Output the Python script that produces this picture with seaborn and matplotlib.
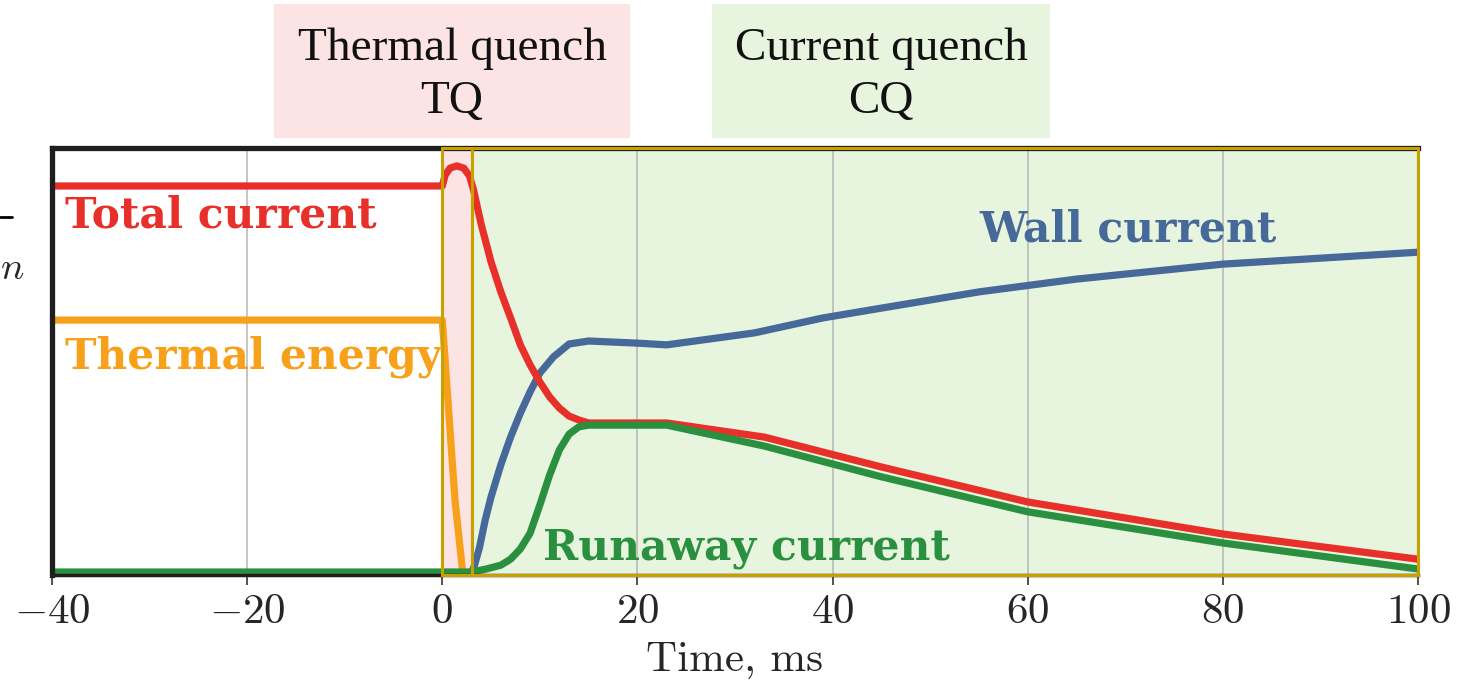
import matplotlib
matplotlib.use("Agg")
import matplotlib.pyplot as plt
import seaborn as sns
import pandas as pd
from matplotlib.patches import Rectangle
from matplotlib.lines import Line2D

# ---------------- data (normalised signal, 0 = axis bottom, 1 = axis top) -------------
total_x = [-40, 0, 0.3, 0.8, 1.5, 2.2, 2.8, 3.2, 4, 5, 6, 7, 8, 9, 10, 11, 12, 13, 14, 15, 23, 33, 45, 60, 80, 100]
total_y = [0.911, 0.911, 0.937, 0.953, 0.958, 0.953, 0.934, 0.902, 0.820, 0.733, 0.663, 0.602, 0.539, 0.492,
           0.452, 0.417, 0.391, 0.372, 0.363, 0.356, 0.356, 0.323, 0.253, 0.171, 0.096, 0.037]

thermal_x = [-40, 0, 1.3, 2.1]
thermal_y = [0.597, 0.597, 0.176, 0.005]

runaway_x = [-40, 3, 4.5, 6, 7, 8, 9, 10, 11, 12, 13, 14, 15, 23, 33, 45, 60, 80, 100]
runaway_y = [0.007, 0.007, 0.014, 0.023, 0.037, 0.061, 0.098, 0.164, 0.234, 0.293, 0.330, 0.347, 0.351,
             0.351, 0.302, 0.230, 0.148, 0.075, 0.014]

wall_x = [3, 3.3, 3.8, 4.4, 5, 6, 7, 8, 9, 10, 11.4, 13, 15, 20, 23, 32, 39, 45, 55, 65, 80, 100]
wall_y = [0.005, 0.023, 0.063, 0.129, 0.183, 0.258, 0.323, 0.379, 0.429, 0.473, 0.511, 0.541, 0.548,
          0.543, 0.539, 0.567, 0.602, 0.625, 0.663, 0.693, 0.728, 0.756]

xticks = [-40, -20, 0, 20, 40, 60, 80, 100]
tq_span = (0, 3)
cq_span = (3, 100)

series_labels = ["Total current", "Thermal energy", "Runaway current", "Wall current"]

# ---------------- styling -----------------------------------------------------------
sns.set_style("white")
plt.rcParams["mathtext.fontset"] = "cm"
plt.rcParams["font.family"] = ["DejaVu Sans"]

RED = "#e8302a"
ORANGE = "#f7a11a"
GREEN = "#2a9040"
BLUE = "#47699a"
GOLD = "#c8a000"
PINK_BG = "#fde4e4"
GREEN_BG = "#e8f5de"

fig = plt.figure(figsize=(14.62, 6.85), dpi=100)
ax = fig.add_axes([52 / 1462, 1 - 575 / 685, (1418 - 52) / 1462, (575 - 148) / 685])

ax.set_xlim(-40, 100)
ax.set_ylim(0, 1)

# shaded phases
ax.axvspan(*tq_span, facecolor=PINK_BG, edgecolor="none", zorder=0)
ax.axvspan(*cq_span, facecolor=GREEN_BG, edgecolor="none", zorder=0)

ax.set_axisbelow(True)
ax.grid(axis="x", color="#b5b5b5", lw=1.1, zorder=0.5)
ax.grid(axis="y", visible=False)

def draw(xs, ys, color, z=2):
    df = pd.DataFrame({"t": xs, "v": ys})
    sns.lineplot(data=df, x="t", y="v", ax=ax, color=color, lw=5.2, zorder=z,
                 estimator=None, sort=False, solid_capstyle="butt", solid_joinstyle="round")

draw(thermal_x, thermal_y, ORANGE, 2)
draw(wall_x, wall_y, BLUE, 2)
draw(total_x, total_y, RED, 2.1)
draw(runaway_x, runaway_y, GREEN, 2.2)

# gold outlines of the phases
for (a, b) in (tq_span, cq_span):
    ax.add_patch(Rectangle((a, 0), b - a, 1, fill=False, edgecolor=GOLD, lw=2.2,
                           zorder=3.5, clip_on=False))

# spines
for side in ("left", "top", "bottom"):
    ax.spines[side].set_color("#1e1e1e")
ax.spines["left"].set_linewidth(3.8)
ax.spines["top"].set_linewidth(3.8)
ax.spines["bottom"].set_linewidth(2.5)
ax.spines["right"].set_color("#4a4a3a")
ax.spines["right"].set_linewidth(1.5)

ax.set_xticks(xticks)
ax.set_xticklabels([rf"${v}$" for v in xticks])
ax.set_yticks([])
ax.tick_params(axis="x", direction="out", length=7, width=1.2, color="#333333",
               labelsize=31, pad=4, bottom=True)
ax.set_xlabel("Time, ms", fontsize=31, labelpad=7, family=["cmr10"])
ax.set_ylabel("")

# series labels
lab_kw = dict(fontsize=30.5, ha="left", va="center", zorder=4, family=["DejaVu Serif"], weight="bold")
ax.text(-38.7, 0.843, series_labels[0], color=RED, **lab_kw)
ax.text(-38.7, 0.51, series_labels[1], color=ORANGE, **lab_kw)
ax.text(10.3, 0.063, series_labels[2], color=GREEN, **lab_kw)
ax.text(55.0, 0.81, series_labels[3], color=BLUE, **lab_kw)

# header boxes
W, H = 1462, 685
def header(x0, x1, y0, y1, face, txt):
    fig.patches.append(Rectangle((x0 / W, 1 - y1 / H), (x1 - x0) / W, (y1 - y0) / H,
                                 transform=fig.transFigure, facecolor=face, edgecolor="none"))
    fig.text((x0 + x1) / 2 / W, 1 - (y0 + y1) / 2 / H - 4 / H, txt, ha="center", va="center",
             fontsize=34, family=["Liberation Serif"], linespacing=1.32, color="#111111")

header(274, 630, 4, 138, PINK_BG, "Thermal quench\nTQ")
header(712, 1050, 4, 138, GREEN_BG, "Current quench\nCQ")

# cropped fragment at the left edge
fig.add_artist(Line2D([0, 12 / W], [1 - 217 / H, 1 - 217 / H], transform=fig.transFigure,
                      color="black", lw=2))
fig.text(0, 1 - 268 / H, r"$n$", fontsize=28, ha="left", va="center")

fig.savefig("out.png", dpi=100)
